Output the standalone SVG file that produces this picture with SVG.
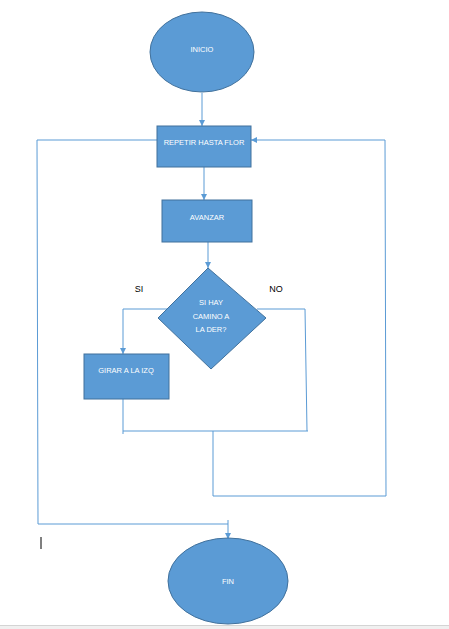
<svg xmlns="http://www.w3.org/2000/svg" width="449" height="629" viewBox="0 0 449 629">
<style>
.shape{fill:#5B9BD5;stroke:#41719C;stroke-width:1}
.lbl{font-family:"Liberation Sans",Arial,sans-serif;font-size:7.5px;fill:#ffffff;text-anchor:middle}
.blk{font-family:"Liberation Sans",Arial,sans-serif;font-size:9px;fill:#000000;text-anchor:middle}
.con{fill:none;stroke:#5B9BD5;stroke-width:1}
</style>
<defs>
<marker id="arr" viewBox="0 0 6 6" refX="6" refY="3" markerWidth="6" markerHeight="6" orient="auto" markerUnits="userSpaceOnUse">
<path d="M0,0 L6,3 L0,6 z" fill="#5B9BD5"/>
</marker>
</defs>
<rect width="449" height="629" fill="#ffffff"/>
<g id="connectors">
<line class="con" x1="202" y1="93" x2="202" y2="126" marker-end="url(#arr)"/>
<line class="con" x1="204" y1="167" x2="204" y2="200" marker-end="url(#arr)"/>
<line class="con" x1="208" y1="242" x2="208" y2="268" marker-end="url(#arr)"/>
<polyline class="con" points="168,309 123,309 123,354" marker-end="url(#arr)"/>
<polyline class="con" points="257,309 305,309 307,431"/>
<line class="con" x1="123" y1="399" x2="123" y2="434"/>
<line class="con" x1="123" y1="431" x2="308" y2="431"/>
<polyline class="con" points="213,431 213,496 386,496 385,140 251,140" marker-end="url(#arr)"/>
<polyline class="con" points="157,140 37,140 38,524 228,524"/>
<line class="con" x1="228" y1="520" x2="228" y2="539" marker-end="url(#arr)"/>
</g>
<g id="inicio">
<ellipse class="shape" cx="202" cy="52" rx="52" ry="40"/>
<text class="lbl" x="202" y="52">INICIO</text>
</g>
<g id="repetir">
<rect class="shape" x="157" y="126" width="94" height="41"/>
<text class="lbl" x="204" y="145">REPETIR HASTA FLOR</text>
</g>
<g id="avanzar">
<rect class="shape" x="162" y="200" width="90" height="42"/>
<text class="lbl" x="207" y="220">AVANZAR</text>
</g>
<g id="decision">
<polygon class="shape" points="208,268 266,318 211,369 158,318"/>
<text class="lbl" x="211" y="305">SI HAY</text>
<text class="lbl" x="211" y="319">CAMINO A</text>
<text class="lbl" x="211" y="332">LA DER?</text>
</g>
<g id="si-label"><text class="blk" x="139" y="292">SI</text></g>
<g id="no-label"><text class="blk" x="276" y="292">NO</text></g>
<g id="girar">
<rect class="shape" x="84" y="354" width="85" height="45"/>
<text class="lbl" x="126" y="373">GIRAR A LA IZQ</text>
</g>
<g id="fin">
<ellipse class="shape" cx="228" cy="581" rx="60" ry="43"/>
<text class="lbl" x="228" y="584">FIN</text>
</g>
<line x1="41" y1="537" x2="41" y2="549" stroke="#000000" stroke-width="1"/>
<rect x="0" y="625" width="449" height="4" fill="#f0f0f0"/>
<line x1="0" y1="625.5" x2="449" y2="625.5" stroke="#d4d4d4" stroke-width="1"/>
</svg>
